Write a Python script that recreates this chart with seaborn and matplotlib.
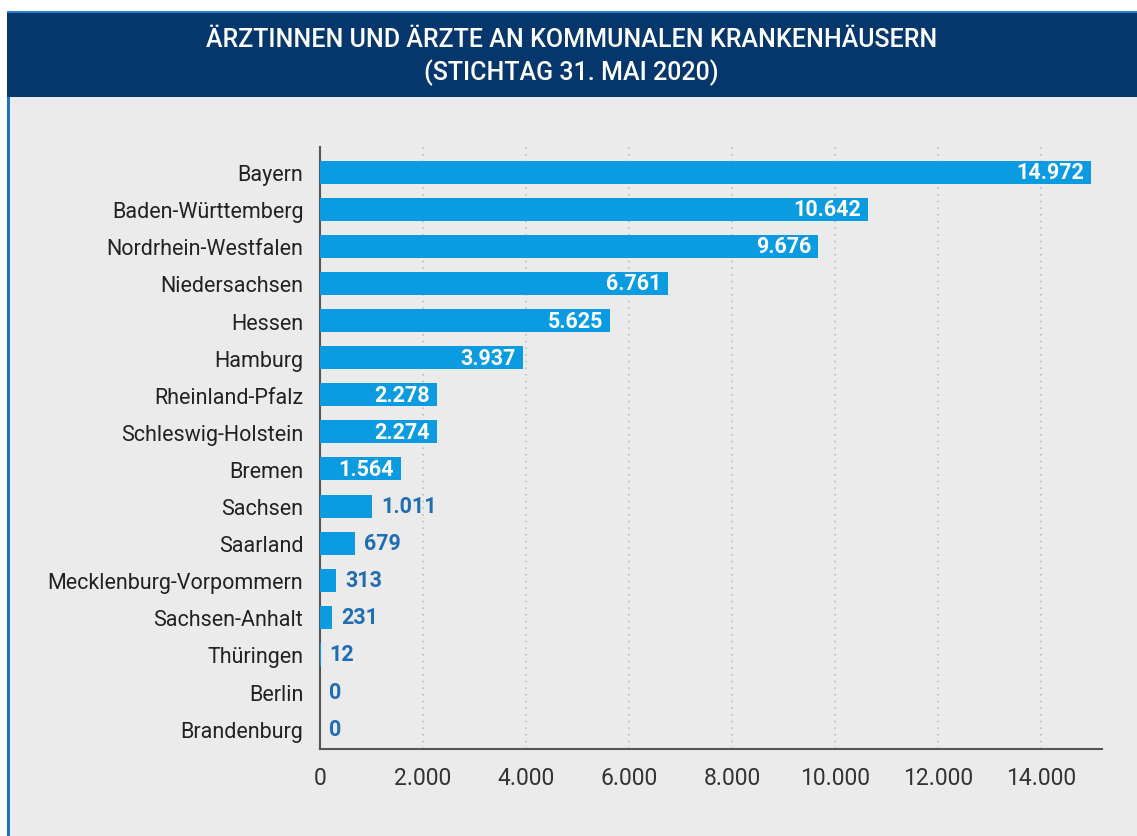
import matplotlib
matplotlib.use("Agg")
import matplotlib.pyplot as plt
import seaborn as sns
import pandas as pd
from matplotlib.patches import Rectangle
from matplotlib.ticker import FuncFormatter

title_lines = ["ÄRZTINNEN UND ÄRZTE AN KOMMUNALEN KRANKENHÄUSERN", "(STICHTAG 31. MAI 2020)"]
states = ["Bayern", "Baden-Württemberg", "Nordrhein-Westfalen", "Niedersachsen", "Hessen",
          "Hamburg", "Rheinland-Pfalz", "Schleswig-Holstein", "Bremen", "Sachsen", "Saarland",
          "Mecklenburg-Vorpommern", "Sachsen-Anhalt", "Thüringen", "Berlin", "Brandenburg"]
values = [14972, 10642, 9676, 6761, 5625, 3937, 2278, 2274, 1564, 1011, 679, 313, 231, 12, 0, 0]
xticks = [0, 2000, 4000, 6000, 8000, 10000, 12000, 14000]

def de(v):
    return f"{v:,.0f}".replace(",", ".")

sns.set_theme(style="white")
plt.rcParams['font.family'] = ['Roboto', 'DejaVu Sans']

W, H = 1137, 837
fig = plt.figure(figsize=(W / 100, H / 100), dpi=100)
fig.patch.set_facecolor("white")

# background panel
fig.add_artist(Rectangle((7 / W, 0), 1 - 7 / W, 1 - 98 / H, transform=fig.transFigure,
                         facecolor="#ebebeb", edgecolor="none", zorder=-10))
# left blue border
fig.add_artist(Rectangle((7 / W, 0), 3 / W, 1 - 98 / H, transform=fig.transFigure,
                         facecolor="#1a72c2", edgecolor="none", zorder=-5))
# title band
fig.add_artist(Rectangle((7 / W, 1 - 98 / H), 1 - 7 / W, (98 - 12) / H, transform=fig.transFigure,
                         facecolor="#06376c", edgecolor="none", zorder=-5))
fig.add_artist(Rectangle((7 / W, 1 - 14 / H), 1 - 7 / W, 2 / H, transform=fig.transFigure,
                         facecolor="#2a7fd0", edgecolor="none", zorder=-4))
fig.text(0.5 + 3 / W, 1 - 40 / H, title_lines[0], color="white", fontsize=18, fontweight="medium",
         ha="center", va="center")
fig.text(0.5 + 3 / W, 1 - 73 / H, title_lines[1], color="white", fontsize=18, fontweight="medium",
         ha="center", va="center")

ax = fig.add_axes([320 / W, 1 - 750 / H, (1102 - 320) / W, (750 - 148) / H])
ax.set_facecolor("none")
df = pd.DataFrame({"state": states, "value": values})
sns.barplot(data=df, x="value", y="state", orient="h", color="#0a9be0", saturation=1,
            width=0.62, linewidth=0, ax=ax, zorder=3)
ax.set_xlim(0, 15180)
ax.set_ylim(15.55, -0.68)
ax.set_xticks(xticks)
ax.xaxis.set_major_formatter(FuncFormatter(lambda v, p: de(v)))
ax.set_xlabel("")
ax.set_ylabel("")
for x in xticks[1:]:
    ax.axvline(x, color="#bdbdbd", linestyle=(0, (1, 3)), linewidth=1.2, zorder=1)
for s in ["top", "right"]:
    ax.spines[s].set_visible(False)
for s in ["left", "bottom"]:
    ax.spines[s].set_color("#555555")
    ax.spines[s].set_linewidth(1.5)
ax.tick_params(axis="x", length=0, pad=12, labelsize=16.5, labelcolor="#333333")
ax.tick_params(axis="y", length=0, pad=12, labelsize=15.5, labelcolor="#222222")

px = 15180 / (1102 - 320)
for i, v in enumerate(values):
    if v >= 1500:
        ax.text(v - 7 * px, i, de(v), color="white", fontsize=15.5, fontweight="bold",
                ha="right", va="center", zorder=5)
    else:
        ax.text(v + 9 * px, i, de(v), color="#1f6db3", fontsize=15.5, fontweight="bold",
                ha="left", va="center", zorder=5)

fig.savefig("out.png", dpi=100)
